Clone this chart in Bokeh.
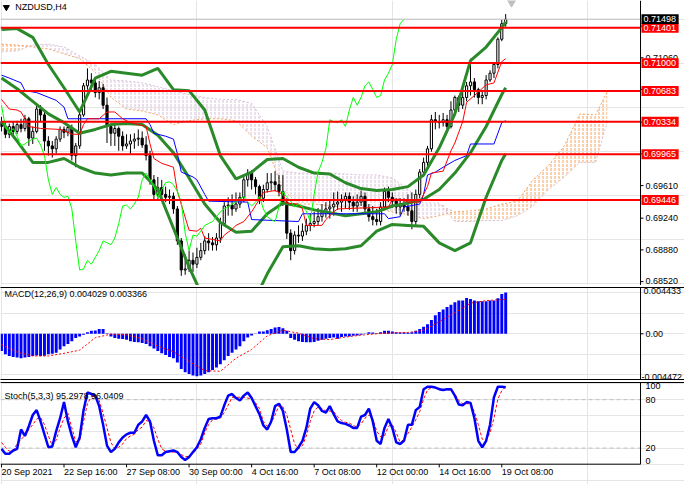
import numpy as np
from bokeh.plotting import figure
from bokeh.models import Range1d, FixedTicker, LinearAxis
from bokeh.layouts import column
from bokeh.embed import file_html
from bokeh.resources import INLINE
from bokeh.core.properties import value

# ---------------- data ----------------
symbol = "NZDUSD,H4"
x_tick_bars = [0, 16, 32, 48, 64, 80, 96, 112, 128]
x_tick_labels = ["20 Sep 2021", "22 Sep 16:00", "27 Sep 08:00", "30 Sep 00:00", "4 Oct 16:00",
                 "7 Oct 08:00", "12 Oct 00:00", "14 Oct 16:00", "19 Oct 08:00"]

open_ = [0.70335, 0.70280, 0.70192, 0.70280, 0.70225, 0.70302, 0.70258, 0.70368, 0.70148, 0.70225,
         0.70478, 0.70412, 0.70115, 0.70060, 0.70027, 0.70137, 0.70247, 0.70214, 0.70269, 0.69950,
         0.70060, 0.70412, 0.70742, 0.70808, 0.70775, 0.70665, 0.70720, 0.70522, 0.70280, 0.70203,
         0.70258, 0.70170, 0.70060, 0.70082, 0.70115, 0.70137, 0.70148, 0.70071, 0.69950, 0.69675,
         0.69510, 0.69587, 0.69510, 0.69477, 0.69488, 0.69345, 0.68982, 0.68652, 0.68663, 0.68762,
         0.68718, 0.68795, 0.68872, 0.68982, 0.68960, 0.68938, 0.69015, 0.69180, 0.69378, 0.69389,
         0.69345, 0.69400, 0.69477, 0.69675, 0.69752, 0.69675, 0.69598, 0.69466, 0.69565, 0.69642,
         0.69653, 0.69620, 0.69543, 0.69422, 0.69070, 0.68872, 0.69048, 0.69037, 0.69092, 0.69158,
         0.69180, 0.69202, 0.69257, 0.69312, 0.69345, 0.69367, 0.69400, 0.69422, 0.69455, 0.69488,
         0.69422, 0.69378, 0.69422, 0.69488, 0.69345, 0.69257, 0.69224, 0.69202, 0.69367, 0.69543,
         0.69477, 0.69433, 0.69367, 0.69400, 0.69367, 0.69323, 0.69202, 0.69510, 0.69763, 0.69873,
         0.70027, 0.70357, 0.70335, 0.70324, 0.70357, 0.70280, 0.70467, 0.70610, 0.70522, 0.70610,
         0.70742, 0.70786, 0.70698, 0.70610, 0.70632, 0.70808, 0.70885, 0.70984, 0.71270, 0.71446]
high = [0.70390, 0.70324, 0.70313, 0.70335, 0.70346, 0.70368, 0.70412, 0.70390, 0.70280, 0.70533,
        0.70522, 0.70445, 0.70170, 0.70115, 0.70170, 0.70280, 0.70280, 0.70302, 0.70302, 0.70093,
        0.70445, 0.70775, 0.70940, 0.70885, 0.70830, 0.70797, 0.70764, 0.70610, 0.70302, 0.70302,
        0.70280, 0.70225, 0.70192, 0.70192, 0.70203, 0.70247, 0.70225, 0.70170, 0.70005, 0.69730,
        0.69708, 0.69675, 0.69598, 0.69565, 0.69532, 0.69378, 0.69015, 0.68828, 0.68872, 0.68850,
        0.68905, 0.68960, 0.69037, 0.69070, 0.69026, 0.69070, 0.69246, 0.69422, 0.69477, 0.69510,
        0.69532, 0.69532, 0.69708, 0.69796, 0.69785, 0.69708, 0.69620, 0.69620, 0.69752, 0.69752,
        0.69774, 0.69730, 0.69730, 0.69466, 0.69114, 0.69092, 0.69158, 0.69180, 0.69235, 0.69290,
        0.69312, 0.69356, 0.69400, 0.69422, 0.69444, 0.69532, 0.69543, 0.69510, 0.69532, 0.69532,
        0.69488, 0.69510, 0.69554, 0.69532, 0.69400, 0.69378, 0.69345, 0.69422, 0.69587, 0.69598,
        0.69532, 0.69466, 0.69466, 0.69466, 0.69510, 0.69532, 0.69565, 0.69796, 0.69928, 0.70060,
        0.70412, 0.70445, 0.70412, 0.70434, 0.70412, 0.70566, 0.70632, 0.70632, 0.70698, 0.70786,
        0.71050, 0.70830, 0.70720, 0.70687, 0.70863, 0.70918, 0.71006, 0.71292, 0.71490, 0.71556]
low = [0.70225, 0.70148, 0.70148, 0.70181, 0.70192, 0.70214, 0.70225, 0.70060, 0.70082, 0.70203,
       0.70335, 0.70005, 0.69950, 0.69928, 0.69972, 0.70104, 0.70148, 0.70170, 0.69895, 0.69818,
       0.70027, 0.70390, 0.70698, 0.70698, 0.70610, 0.70588, 0.70478, 0.70093, 0.70060, 0.70060,
       0.70005, 0.70005, 0.70027, 0.69972, 0.70027, 0.70060, 0.70038, 0.69895, 0.69620, 0.69455,
       0.69455, 0.69444, 0.69422, 0.69400, 0.69290, 0.68938, 0.68586, 0.68597, 0.68630, 0.68630,
       0.68674, 0.68762, 0.68828, 0.68872, 0.68872, 0.68872, 0.68960, 0.69147, 0.69268, 0.69268,
       0.69312, 0.69356, 0.69422, 0.69598, 0.69565, 0.69510, 0.69400, 0.69422, 0.69532, 0.69554,
       0.69543, 0.69488, 0.69378, 0.69004, 0.68762, 0.68828, 0.68960, 0.68982, 0.69048, 0.69092,
       0.69136, 0.69158, 0.69202, 0.69246, 0.69235, 0.69268, 0.69334, 0.69312, 0.69356, 0.69334,
       0.69312, 0.69312, 0.69378, 0.69290, 0.69202, 0.69158, 0.69158, 0.69158, 0.69334, 0.69422,
       0.69356, 0.69290, 0.69268, 0.69312, 0.69268, 0.69114, 0.69158, 0.69466, 0.69708, 0.69818,
       0.69994, 0.70247, 0.70258, 0.70280, 0.70236, 0.70258, 0.70434, 0.70445, 0.70478, 0.70566,
       0.70632, 0.70610, 0.70533, 0.70533, 0.70588, 0.70786, 0.70830, 0.70940, 0.71248, 0.71413]
close = [0.70280, 0.70192, 0.70280, 0.70225, 0.70302, 0.70258, 0.70368, 0.70148, 0.70225, 0.70478,
         0.70412, 0.70115, 0.70060, 0.70027, 0.70137, 0.70247, 0.70214, 0.70269, 0.69950, 0.70060,
         0.70412, 0.70742, 0.70808, 0.70775, 0.70665, 0.70720, 0.70522, 0.70280, 0.70203, 0.70258,
         0.70170, 0.70060, 0.70082, 0.70115, 0.70137, 0.70148, 0.70071, 0.69950, 0.69675, 0.69510,
         0.69587, 0.69510, 0.69477, 0.69488, 0.69345, 0.68982, 0.68652, 0.68663, 0.68762, 0.68718,
         0.68795, 0.68872, 0.68982, 0.68960, 0.68938, 0.69015, 0.69180, 0.69378, 0.69389, 0.69345,
         0.69400, 0.69477, 0.69675, 0.69752, 0.69675, 0.69598, 0.69466, 0.69565, 0.69642, 0.69653,
         0.69620, 0.69543, 0.69422, 0.69070, 0.68872, 0.69048, 0.69037, 0.69092, 0.69158, 0.69180,
         0.69202, 0.69257, 0.69312, 0.69345, 0.69367, 0.69400, 0.69422, 0.69455, 0.69488, 0.69422,
         0.69378, 0.69422, 0.69488, 0.69345, 0.69257, 0.69224, 0.69202, 0.69367, 0.69543, 0.69477,
         0.69433, 0.69367, 0.69400, 0.69367, 0.69323, 0.69202, 0.69510, 0.69763, 0.69873, 0.70027,
         0.70357, 0.70335, 0.70324, 0.70357, 0.70280, 0.70467, 0.70610, 0.70522, 0.70610, 0.70742,
         0.70786, 0.70698, 0.70610, 0.70632, 0.70808, 0.70885, 0.70984, 0.71270, 0.71446, 0.71498]

bb_bars = [0, 4, 8, 12, 16, 20, 24, 28, 32, 36, 40, 44, 48, 52, 56, 60, 64, 68, 72, 76, 80,
           84, 88, 92, 96, 100, 104, 108, 112, 116, 120, 124, 128, 129]
bb_upper = [0.71380, 0.71391, 0.71292, 0.70984, 0.70720, 0.70445, 0.70830, 0.70907, 0.70885, 0.70863,
            0.70940, 0.70698, 0.70687, 0.70467, 0.69950, 0.69686, 0.69763, 0.69906, 0.69917, 0.69818,
            0.69752, 0.69741, 0.69642, 0.69576, 0.69554, 0.69565, 0.69598, 0.69730, 0.70038, 0.70423,
            0.71028, 0.71182, 0.71402, 0.71468]
bb_middle = [0.70830, 0.70709, 0.70566, 0.70423, 0.70324, 0.70203, 0.70247, 0.70302, 0.70313, 0.70302,
             0.70181, 0.69983, 0.69697, 0.69400, 0.69191, 0.69081, 0.69092, 0.69290, 0.69411, 0.69378,
             0.69334, 0.69301, 0.69268, 0.69290, 0.69312, 0.69378, 0.69411, 0.69455, 0.69565, 0.69752,
             0.69983, 0.70280, 0.70643, 0.70720]
bb_lower = [0.70335, 0.70115, 0.69873, 0.69873, 0.69917, 0.69818, 0.69752, 0.69730, 0.69752, 0.69752,
            0.69565, 0.69125, 0.68685, 0.68300, 0.68135, 0.68102, 0.68245, 0.68608, 0.68916, 0.68927,
            0.68894, 0.68883, 0.68894, 0.68927, 0.69092, 0.69169, 0.69158, 0.69147, 0.68960, 0.68872,
            0.68960, 0.69477, 0.69895, 0.69972]

tenkan_bars = [0, 1, 2, 4, 5, 6, 7, 10, 15, 17, 18, 20, 21, 22, 25, 27, 29, 31, 33, 37, 38, 39, 41,
               44, 45, 48, 50, 51, 52, 56, 57, 59, 60, 62, 64, 66, 67, 70, 72, 73, 76, 77, 78, 82, 83,
               85, 86, 99, 100, 102, 104, 107, 109, 110, 113, 115, 116, 118, 119, 121, 124, 126, 128, 129]
tenkan = [0.70588, 0.70533, 0.70478, 0.70467, 0.70445, 0.70368, 0.70280, 0.70258, 0.70247, 0.70214,
          0.70192, 0.70192, 0.70302, 0.70368, 0.70368, 0.70445, 0.70445, 0.70368, 0.70324, 0.70280,
          0.70082, 0.69917, 0.69862, 0.69818, 0.69543, 0.69103, 0.69092, 0.69125, 0.69015, 0.68982,
          0.69048, 0.69114, 0.69158, 0.69202, 0.69312, 0.69455, 0.69532, 0.69554, 0.69510, 0.69411,
          0.69400, 0.69345, 0.69158, 0.69158, 0.69224, 0.69312, 0.69345, 0.69367, 0.69455, 0.69455,
          0.69422, 0.69422, 0.69598, 0.69752, 0.69774, 0.70005, 0.70093, 0.70335, 0.70555, 0.70632,
          0.70753, 0.70775, 0.71017, 0.71050]
kijun_bars = [0, 2, 5, 6, 9, 14, 16, 17, 37, 38, 39, 42, 44, 45, 46, 49, 50, 52, 53, 63, 64, 76, 77,
              98, 99, 102, 103, 107, 108, 109, 111, 113, 116, 119, 120, 126, 128, 129]
kijun = [0.70863, 0.70830, 0.70775, 0.70687, 0.70665, 0.70577, 0.70500, 0.70368, 0.70368, 0.70302,
         0.70203, 0.70170, 0.70137, 0.69972, 0.69763, 0.69708, 0.69675, 0.69510, 0.69433, 0.69422,
         0.69224, 0.69202, 0.69290, 0.69290, 0.69235, 0.69257, 0.69367, 0.69400, 0.69510, 0.69730,
         0.69763, 0.69818, 0.69895, 0.69950, 0.70082, 0.70082, 0.70324, 0.70346]
chikou_shift = 26

cloud_bars = [0, 4, 8, 12, 16, 20, 24, 28, 32, 36, 40, 44, 48, 52, 56, 60, 64, 68, 72, 76, 80, 84,
              88, 92, 96, 100, 104, 108, 112, 116, 120, 124, 128, 132, 136, 140, 144, 148, 152, 155]
span_a = [0.71215, 0.71204, 0.71182, 0.71160, 0.71105, 0.71050, 0.70896, 0.70610, 0.70478, 0.70456,
          0.70412, 0.70302, 0.70346, 0.70368, 0.70368, 0.70346, 0.70170, 0.70038, 0.69565, 0.69400,
          0.69400, 0.69378, 0.69367, 0.69356, 0.69345, 0.69312, 0.69279, 0.69235, 0.69268, 0.69312,
          0.69323, 0.69345, 0.69400, 0.69433, 0.69675, 0.69840, 0.70060, 0.70423, 0.70412, 0.70676]
span_b = [0.71127, 0.71138, 0.71204, 0.71215, 0.71182, 0.71083, 0.70984, 0.70808, 0.70797, 0.70775,
          0.70731, 0.70687, 0.70643, 0.70610, 0.70588, 0.70588, 0.70544, 0.70280, 0.69774, 0.69752,
          0.69752, 0.69752, 0.69741, 0.69730, 0.69730, 0.69697, 0.69565, 0.69411, 0.69411, 0.69202,
          0.69202, 0.69213, 0.69213, 0.69268, 0.69378, 0.69565, 0.69708, 0.69873, 0.69873, 0.70335]

levels = [0.71401, 0.71000, 0.70683, 0.70334, 0.69965, 0.69446]
bid = 0.71498
price_ticks = [0.68520, 0.68880, 0.69240, 0.69610, 0.69970, 0.70330, 0.70700, 0.71060, 0.71420]
price_min, price_max = 0.68476, 0.71710

macd = [-0.00169, -0.00201, -0.00217, -0.00227, -0.00233, -0.00239, -0.00233, -0.00227, -0.00217, -0.00211,
        -0.00217, -0.00214, -0.00201, -0.00195, -0.00185, -0.00153, -0.00121, -0.00099, -0.00073, -0.00041,
        -0.00026, -0.00010, 0.00016, 0.00029, 0.00032, 0.00048, 0.00048, 0.00006, -0.00026, -0.00041,
        -0.00048, -0.00051, -0.00057, -0.00073, -0.00080, -0.00083, -0.00089, -0.00099, -0.00121, -0.00144,
        -0.00169, -0.00191, -0.00207, -0.00227, -0.00239, -0.00281, -0.00345, -0.00376, -0.00392, -0.00408,
        -0.00415, -0.00408, -0.00392, -0.00376, -0.00354, -0.00329, -0.00297, -0.00258, -0.00217, -0.00185,
        -0.00153, -0.00121, -0.00073, -0.00035, -0.00016, -0.00003, 0.00022, 0.00022, 0.00035, 0.00048,
        0.00061, 0.00067, 0.00054, 0.00029, -0.00041, -0.00057, -0.00073, -0.00080, -0.00083, -0.00083,
        -0.00080, -0.00067, -0.00057, -0.00048, -0.00041, -0.00035, -0.00048, -0.00032, -0.00026, -0.00026,
        -0.00019, -0.00016, -0.00010, -0.00003, 0.00016, 0.00013, 0.00006, 0.00016, 0.00029, 0.00029,
        0.00022, 0.00016, 0.00013, 0.00016, 0.00010, 0.00016, 0.00029, 0.00048, 0.00070, 0.00093,
        0.00134, 0.00182, 0.00214, 0.00239, 0.00262, 0.00284, 0.00309, 0.00325, 0.00325, 0.00351,
        0.00341, 0.00325, 0.00319, 0.00319, 0.00319, 0.00325, 0.00325, 0.00348, 0.00389, 0.004029]
signal_bars = [0, 4, 8, 12, 16, 20, 24, 28, 32, 36, 40, 44, 48, 52, 56, 60, 64, 68, 72, 76, 80,
               84, 88, 92, 96, 100, 104, 108, 112, 116, 120, 124, 128, 129]
signal = [-0.00105, -0.00179, -0.00217, -0.00217, -0.00191, -0.00160, -0.00038, -0.00003, -0.00010, -0.00048,
          -0.00121, -0.00175, -0.00271, -0.00360, -0.00367, -0.00239, -0.00153, -0.00020, 0.00035, 0.00006,
          -0.00048, -0.00057, -0.00032, -0.00013, 0.00000, 0.00010, 0.00013, 0.00035, 0.00118, 0.00207,
          0.00300, 0.00325, 0.00335, 0.003366]
macd_top, macd_bottom = 0.004433, -0.004472
macd_min, macd_max = -0.00447, 0.00453

stoch_k = [19, 13, 13, 17, 19, 43, 35, 47, 61, 67,
           53, 37, 21, 22, 41, 57, 77, 53, 35, 21,
           33, 67, 89, 87, 85, 72, 49, 23, 15, 19,
           27, 33, 37, 39, 39, 49, 53, 61, 53, 29,
           11, 11, 15, 16, 17, 15, 9, 5, 9, 15,
           21, 31, 45, 56, 57, 57, 59, 73, 85, 87,
           82, 79, 85, 89, 82, 72, 62, 48, 43, 53,
           72, 75, 66, 43, 15, 15, 21, 29, 45, 69,
           77, 73, 66, 64, 72, 62, 53, 51, 50, 48,
           45, 45, 59, 61, 69, 53, 29, 25, 45, 56,
           45, 27, 25, 29, 49, 49, 67, 71, 93, 96,
           96, 95, 93, 92, 93, 93, 85, 74, 73, 77,
           76, 57, 29, 21, 29, 49, 83, 96, 96, 95.2978]
stoch_d = [27, 21, 16, 17, 25, 31, 35, 43, 49, 56,
           58, 49, 35, 23, 30, 45, 57, 63, 45, 28,
           29, 53, 75, 84, 85, 79, 63, 45, 27, 19,
           21, 25, 32, 35, 37, 43, 46, 54, 53, 45,
           31, 19, 16, 15, 15, 15, 12, 9, 10, 13,
           19, 25, 39, 49, 55, 56, 57, 64, 73, 83,
           83, 83, 83, 82, 81, 76, 69, 53, 47, 51,
           61, 73, 71, 61, 43, 25, 19, 23, 35, 53,
           66, 71, 69, 66, 66, 65, 59, 54, 52, 51,
           48, 46, 50, 57, 61, 56, 41, 34, 35, 47,
           49, 39, 27, 31, 38, 46, 55, 65, 81, 92,
           95, 95, 94, 93, 92, 92, 87, 79, 75, 75,
           75, 65, 49, 31, 30, 39, 57, 81, 91, 96.0409]
stoch_levels = [20, 80]
stoch_min, stoch_max = 0, 100

# ---------------- styling / layout constants ----------------
W = 684
FONT = "Liberation Sans"
FS = "9px"
BB_COLOR = "#2A8A2A"
X_START, X_END = -0.25, 174.75     # frame spans the whole width, price-scale strip included
AXIS_X = 163.5                     # price scale line
TICK_END = 164.25
LABEL_X = 164.75
BOX_L, BOX_R, BOX_TX = 163.75, 173.25, 164.25
BOX_H = 0.00056                    # half height of the price boxes (price units)
LOW_LABEL_LIFT = 0.00018           # keeps the lowest price label inside the panel
xr = Range1d(X_START, X_END)


def line_only(ax):
    ax.ticker = FixedTicker(ticks=[])
    ax.major_tick_out = 0
    ax.major_tick_in = 0
    ax.minor_tick_out = 0
    ax.minor_tick_in = 0
    ax.major_label_standoff = 0
    ax.axis_line_color = "black"


def make_fig(h, yr, top, bottom, above=False, below=False):
    p = figure(width=W, height=h, x_range=xr, y_range=yr, output_backend="svg",
               toolbar_location=None, x_axis_location=None, y_axis_location=None,
               min_border_left=0, min_border_right=0, min_border_top=top, min_border_bottom=bottom)
    p.outline_line_color = None
    p.background_fill_color = "white"
    p.border_fill_color = "white"
    if above:
        ax = LinearAxis()
        line_only(ax)
        p.add_layout(ax, "above")
    if below:
        ax = LinearAxis()
        line_only(ax)
        p.add_layout(ax, "below")
    return p


def gtext(p, xs, ys, texts, color="black", align="left", baseline="middle", xoff=0):
    p.text(x=xs, y=ys, text=texts, text_font=value(FONT), text_font_size=value(FS),
           text_color=color, text_align=align, text_baseline=baseline, x_offset=xoff)


def scale_line(p, y0, y1, ticks):
    p.segment(x0=[AXIS_X], y0=[y0], x1=[AXIS_X], y1=[y1], line_color="black", line_width=1)
    if ticks:
        p.segment(x0=[AXIS_X] * len(ticks), y0=ticks, x1=[TICK_END] * len(ticks), y1=ticks,
                  line_color="black", line_width=1)


bars = np.arange(len(close))
o = np.array(open_)
c = np.array(close)
up = c >= o

# ---------------- main panel ----------------
p1 = make_fig(285, Range1d(price_min, price_max), 0, 0, below=True)

A = np.array(span_a)
B = np.array(span_b)
env = np.maximum(A, B)
p1.varea(x=cloud_bars, y1=B, y2=env, fill_alpha=0, hatch_pattern="vertical_dash",
         hatch_color="#F4A460", hatch_scale=4, hatch_weight=1)
p1.varea(x=cloud_bars, y1=A, y2=env, fill_alpha=0, hatch_pattern="vertical_dash",
         hatch_color="#D8BFD8", hatch_scale=4, hatch_weight=1)
p1.line(cloud_bars, span_a, line_color="#F4A460", line_dash="2 2", line_width=1)
p1.line(cloud_bars, span_b, line_color="#D8BFD8", line_dash="2 2", line_width=1)

p1.segment(x0=bars, y0=low, x1=bars, y1=high, line_color="black", line_width=1)
p1.vbar(x=bars[up], bottom=o[up], top=c[up], width=0.55, fill_color="white",
        line_color="black", line_width=1)
p1.vbar(x=bars[~up], bottom=c[~up], top=o[~up], width=0.55, fill_color="black",
        line_color="black", line_width=1)

for band in (bb_upper, bb_middle, bb_lower):
    p1.line(bb_bars, band, line_color=BB_COLOR, line_width=3)
p1.line(kijun_bars, kijun, line_color="blue", line_width=1)
p1.line(tenkan_bars, tenkan, line_color="red", line_width=1)
p1.line(bars[chikou_shift:] - chikou_shift, c[chikou_shift:], line_color="#00FF00", line_width=1)

p1.segment(x0=[X_START], y0=[bid], x1=[AXIS_X], y1=[bid], line_color="#C0C0C0", line_width=1)
p1.segment(x0=[X_START] * len(levels), y0=levels, x1=[AXIS_X] * len(levels), y1=levels,
           line_color="red", line_width=2)

# price scale: the lowest label sits on the panel's bottom edge, as in the terminal
scale_line(p1, price_min, price_max, price_ticks)
gtext(p1, [LABEL_X] * (len(price_ticks) - 1), price_ticks[1:], [f"{t:.5f}" for t in price_ticks[1:]])
gtext(p1, [LABEL_X], [price_min + LOW_LABEL_LIFT], [f"{price_ticks[0]:.5f}"], baseline="bottom")
box_y = levels + [bid]
box_col = ["red"] * len(levels) + ["black"]
p1.quad(left=BOX_L, right=BOX_R, bottom=[v - BOX_H for v in box_y], top=[v + BOX_H for v in box_y],
        fill_color=box_col, line_color=None)
gtext(p1, [BOX_TX] * len(box_y), box_y, [f"{v:.5f}" for v in box_y], color="white")

p1.scatter(x=[bars[-1] + 1.5], y=[price_max - 0.0001], marker="inverted_triangle", size=10,
           color="#C0C0C0")
p1.scatter(x=[1.25], y=[price_max - 0.00077], marker="inverted_triangle", size=6, color="black")
gtext(p1, [3.5], [price_max - 0.00077], [symbol])

# ---------------- MACD panel ----------------
p2 = make_fig(95, Range1d(macd_min, macd_max), 2, 1, above=True, below=True)
p2.vbar(x=bars, top=macd, bottom=0, width=0.75, fill_color="blue", line_color=None)
p2.line(signal_bars, signal, line_color="red", line_dash="2 2", line_width=1)
scale_line(p2, macd_min, macd_max, [0])
gtext(p2, [LABEL_X], [0], ["0.00"])
gtext(p2, [BOX_TX], [macd_max], [f"{macd_top:.6f}"], baseline="top")
gtext(p2, [BOX_L], [macd_min], [f"{macd_bottom:.6f}"], baseline="bottom")
gtext(p2, [0.75], [0.00386], [f"MACD(12,26,9) {macd[-1]:.6f} {signal[-1]:.6f}"])

# ---------------- Stochastic panel ----------------
st_lo, st_hi = -25.2, 101.3
p3 = make_fig(104, Range1d(st_lo, st_hi), 2, 0, above=True)
p3.segment(x0=[X_START], y0=[stoch_min], x1=[AXIS_X], y1=[stoch_min], line_color="black", line_width=1)
p3.segment(x0=[X_START] * 2, y0=stoch_levels, x1=[AXIS_X] * 2, y1=stoch_levels,
           line_color="#C0C0C0", line_dash="4 3", line_width=1)
p3.line(bars, stoch_d, line_color="red", line_dash="3 2", line_width=1)
p3.line(bars, stoch_k, line_color="blue", line_width=2.5)
scale_line(p3, stoch_min, st_hi, [])
gtext(p3, [LABEL_X] * 2, stoch_levels, [str(v) for v in stoch_levels])
gtext(p3, [LABEL_X], [st_hi], [str(stoch_max)], baseline="top")
gtext(p3, [LABEL_X], [stoch_min], [str(stoch_min)], baseline="bottom")
gtext(p3, [0.75], [85], [f"Stoch(5,3,3) {stoch_k[-1]:.4f} {stoch_d[-1]:.4f}"])

# time scale: ticks below the panel and labels that start at their tick
p3.segment(x0=x_tick_bars, y0=[stoch_min] * len(x_tick_bars), x1=x_tick_bars,
           y1=[stoch_min - 4] * len(x_tick_bars), line_color="black", line_width=1)
gtext(p3, x_tick_bars, [stoch_min - 10] * len(x_tick_bars), x_tick_labels)

layout = column(p1, p2, p3)
open("out.html", "w").write(file_html(layout, INLINE))
